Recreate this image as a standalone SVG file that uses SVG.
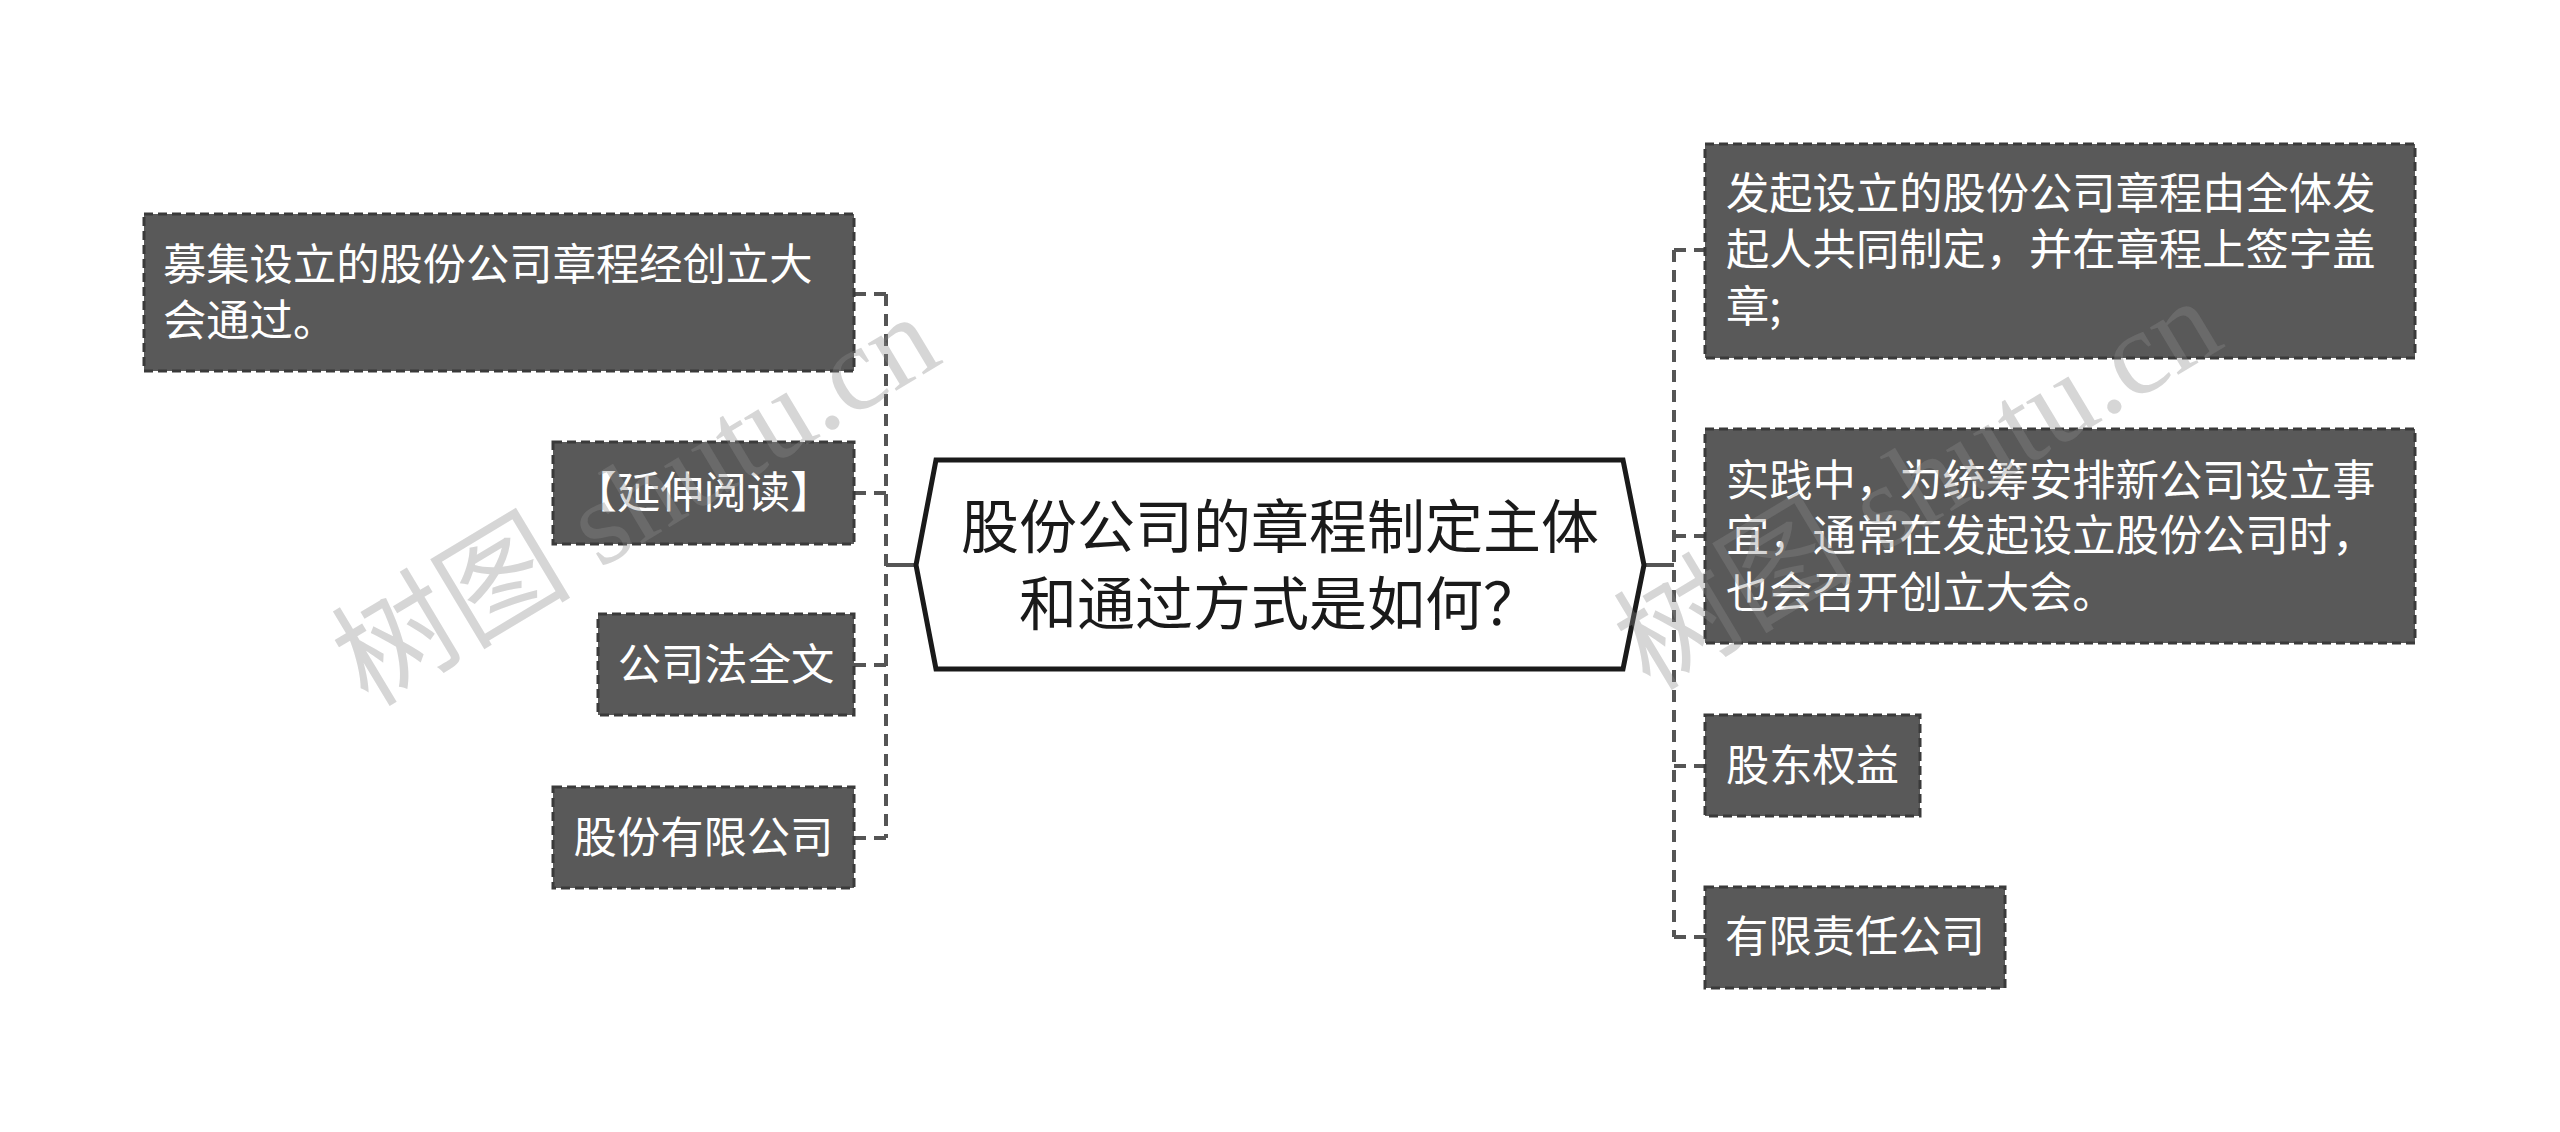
<svg xmlns="http://www.w3.org/2000/svg" width="2560" height="1132" viewBox="0 0 2560 1132">
<style>
.node rect{fill:#595959;stroke:#3a3a3a;stroke-width:3;stroke-dasharray:9 5}
.node text{fill:#ffffff;font-family:"Noto Sans CJK SC","Noto Sans",sans-serif;font-size:43.3px}
.mid{text-anchor:middle}
.dash{fill:none;stroke:#555555;stroke-width:4;stroke-dasharray:12 8}
.solid{fill:none;stroke:#555555;stroke-width:4}
.center polygon{fill:#ffffff;stroke:#1a1a1a;stroke-width:5}
.center text{fill:#1a1a1a;font-family:"Noto Sans CJK SC","Noto Sans",sans-serif;font-size:58px;text-anchor:middle}
.wm{fill:#8a8a8a;fill-opacity:0.35;font-family:"Liberation Serif","Noto Sans CJK SC",serif;font-size:120px}
</style>
<rect width="2560" height="1132" fill="#ffffff"/>
<g id="connectors">
<path class="solid" d="M916,565 H886"/>
<path class="dash" d="M886,294 V838"/>
<path class="dash" d="M886,294 H854 M886,493 H854 M886,665 H854 M886,838 H854"/>
<path class="solid" d="M1644,565 H1674"/>
<path class="dash" d="M1674,250 V937"/>
<path class="dash" d="M1674,250 H1705 M1674,536 H1705 M1674,766 H1705 M1674,937 H1705"/>
</g>
<g id="center" class="center">
<polygon points="936,460 1623,460 1644,565 1623,669 936,669 916,565"/>
<text x="1280" y="548">股份公司的章程制定主体</text>
<text x="1280" y="625">和通过方式是如何？</text>
</g>
<g id="L1" class="node">
<rect x="144" y="214" width="710" height="157"/>
<text x="163" y="280">募集设立的股份公司章程经创立大</text>
<text x="163" y="336">会通过。</text>
</g>
<g id="L2" class="node">
<rect x="553" y="442" width="301" height="102"/>
<text class="mid" x="703.5" y="508">【延伸阅读】</text>
</g>
<g id="L3" class="node">
<rect x="598" y="614" width="256" height="101"/>
<text class="mid" x="726" y="680">公司法全文</text>
</g>
<g id="L4" class="node">
<rect x="553" y="787" width="301" height="101"/>
<text class="mid" x="703.5" y="853">股份有限公司</text>
</g>
<g id="R1" class="node">
<rect x="1705" y="144" width="710" height="214"/>
<text x="1726" y="209">发起设立的股份公司章程由全体发</text>
<text x="1726" y="265">起人共同制定，并在章程上签字盖</text>
<text x="1726" y="322">章;</text>
</g>
<g id="R2" class="node">
<rect x="1705" y="429" width="710" height="214"/>
<text x="1726" y="496">实践中，为统筹安排新公司设立事</text>
<text x="1726" y="551">宜，通常在发起设立股份公司时，</text>
<text x="1726" y="608">也会召开创立大会。</text>
</g>
<g id="R3" class="node">
<rect x="1705" y="715" width="215" height="101"/>
<text class="mid" x="1812.5" y="781">股东权益</text>
</g>
<g id="R4" class="node">
<rect x="1705" y="887" width="300" height="101"/>
<text class="mid" x="1855" y="952">有限责任公司</text>
</g>
<g id="watermarks">
<text class="wm" transform="translate(368,708) rotate(-31)">树图 shutu.cn</text>
<text class="wm" transform="translate(1650,692) rotate(-31)">树图 shutu.cn</text>
</g>
</svg>
